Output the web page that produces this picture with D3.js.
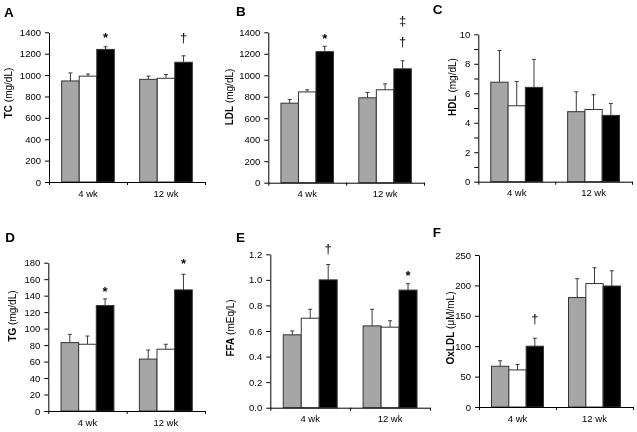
<!DOCTYPE html>
<html><head><meta charset="utf-8">
<script src="https://cdn.jsdelivr.net/npm/d3@7"></script>
<style>
body{margin:0;background:#fff}
svg{display:block;will-change:transform}
text{font-family:"Liberation Sans",Arial,Helvetica,sans-serif;fill:#000}
</style></head>
<body><svg id="chart" width="637" height="432"></svg>
<script>
// ---------- DATA ----------
const categories = ["4 wk", "12 wk"];
const seriesNames = ["control", "low", "high"];
const seriesFill = ["#a6a6a6", "#ffffff", "#000000"];

// means [category][series], errors are SEM (upper bars only)
const tcMeans = [[945, 990, 1240], [960, 970, 1120]];
const tcErrs  = [[75, 20, 25], [30, 35, 60]];
const ldlMeans = [[740, 845, 1220], [790, 865, 1060]];
const ldlErrs  = [[35, 20, 50], [50, 55, 75]];
const hdlMeans = [[6.75, 5.15, 6.4], [4.75, 4.9, 4.5]];
const hdlErrs  = [[2.15, 1.65, 1.9], [1.35, 1.0, 0.8]];
const tgMeans = [[83, 81, 128], [63, 75, 147]];
const tgErrs  = [[10, 10, 8], [11, 6, 19]];
const ffaMeans = [[0.57, 0.70, 1.00], [0.64, 0.63, 0.92]];
const ffaErrs  = [[0.03, 0.07, 0.12], [0.13, 0.05, 0.05]];
const oxMeans = [[67, 61, 100], [180, 203, 199]];
const oxErrs  = [[9, 9, 13], [31, 26, 25]];

const tcTicks = [0, 200, 400, 600, 800, 1000, 1200, 1400];
const ldlTicks = [0, 200, 400, 600, 800, 1000, 1200, 1400];
const hdlTicks = [0, 2, 4, 6, 8, 10];
const hdlMinorTicks = [1, 3, 5, 7, 9];
const tgTicks = [0, 20, 40, 60, 80, 100, 120, 140, 160, 180];
const ffaTicks = [0, 0.2, 0.4, 0.6, 0.8, 1.0, 1.2];
const oxTicks = [0, 50, 100, 150, 200, 250];

// significance marks: category index, series index, symbol, level (data units of baseline)
const tcMarks = [{c: 0, s: 2, sym: "*", at: 1305}, {c: 1, s: 2, sym: "†", at: 1310}];
const ldlMarks = [{c: 0, s: 2, sym: "*", at: 1300}, {c: 1, s: 2, sym: "‡", at: 1468}, {c: 1, s: 2, sym: "†", at: 1268}];
const hdlMarks = [];
const tgMarks = [{c: 0, s: 2, sym: "*", at: 140}, {c: 1, s: 2, sym: "*", at: 173}];
const ffaMarks = [{c: 0, s: 2, sym: "†", at: 1.214}, {c: 1, s: 2, sym: "*", at: 1.0}];
const oxMarks = [{c: 0, s: 2, sym: "†", at: 138}];

// ---------- LAYOUT ----------
const panels = [
  {letter: "A", lx: 4, ly: 17, bold: "TC", rest: " (mg/dL)", tx: 11.5, ty: 93,
   x0: 49, x1: 205, yt: 32.3, yb: 182, max: 1400, ticks: tcTicks, minor: [], fmt: d3.format("d"),
   means: tcMeans, errs: tcErrs, marks: tcMarks},
  {letter: "B", lx: 236, ly: 16, bold: "LDL", rest: " (mg/dL)", tx: 232.5, ty: 97,
   x0: 268.3, x1: 424, yt: 32.3, yb: 182.7, max: 1400, ticks: ldlTicks, minor: [], fmt: d3.format("d"),
   means: ldlMeans, errs: ldlErrs, marks: ldlMarks},
  {letter: "C", lx: 432.7, ly: 14, bold: "HDL", rest: " (mg/dL)", tx: 456, ty: 87,
   x0: 478.3, x1: 632, yt: 34.3, yb: 181.7, max: 10, ticks: hdlTicks, minor: hdlMinorTicks, fmt: d3.format("d"),
   means: hdlMeans, errs: hdlErrs, marks: hdlMarks},
  {letter: "D", lx: 5.3, ly: 241.7, bold: "TG", rest: " (mg/dL)", tx: 16, ty: 316,
   x0: 48.3, x1: 205, yt: 262.7, yb: 411, max: 180, ticks: tgTicks, minor: [], fmt: d3.format("d"),
   means: tgMeans, errs: tgErrs, marks: tgMarks},
  {letter: "E", lx: 236, ly: 242, bold: "FFA", rest: " (mEq/L)", tx: 234, ty: 328,
   x0: 270.3, x1: 430, yt: 254.3, yb: 407.7, max: 1.2, ticks: ffaTicks, minor: [], fmt: d3.format(".1f"),
   means: ffaMeans, errs: ffaErrs, marks: ffaMarks},
  {letter: "F", lx: 432.7, ly: 236.7, bold: "OxLDL", rest: " (μM/mL)", tx: 454, ty: 328,
   x0: 479, x1: 633, yt: 255, yb: 407, max: 250, ticks: oxTicks, minor: [], fmt: d3.format("d"),
   means: oxMeans, errs: oxErrs, marks: oxMarks}
];

const svg = d3.select("#chart");

function drawPanel(p) {
  const g = svg.append("g");
  const x = d3.scaleBand().domain(categories).range([p.x0, p.x1]).paddingInner(0.325).paddingOuter(0.1625);
  const xs = d3.scaleBand().domain(seriesNames).range([0, x.bandwidth()]);
  const y = d3.scaleLinear().domain([0, p.max]).range([p.yb, p.yt]);

  const rows = [];
  p.means.forEach((row, ci) => row.forEach((v, si) => rows.push({ci, si, v, e: p.errs[ci][si]})));

  // error bars (upper only)
  const eb = g.append("g").attr("stroke", "#3a3a3a").attr("stroke-width", 1).attr("fill", "none");
  rows.forEach(d => {
    const cx = x(categories[d.ci]) + xs(seriesNames[d.si]) + xs.bandwidth() / 2;
    eb.append("line").attr("x1", cx).attr("x2", cx).attr("y1", y(d.v)).attr("y2", y(d.v + d.e));
    eb.append("line").attr("x1", cx - 2).attr("x2", cx + 2).attr("y1", y(d.v + d.e)).attr("y2", y(d.v + d.e));
  });

  // bars
  g.append("g").selectAll("rect").data(rows).join("rect")
    .attr("x", d => x(categories[d.ci]) + xs(seriesNames[d.si]))
    .attr("width", xs.bandwidth())
    .attr("y", d => y(d.v))
    .attr("height", d => y(0) - y(d.v))
    .attr("fill", d => seriesFill[d.si])
    .attr("stroke", "#333")
    .attr("stroke-width", 1);

  // y axis
  const ya = g.append("g").attr("transform", `translate(${p.x0},0)`)
    .call(d3.axisLeft(y).tickValues(p.ticks).tickFormat(p.fmt).tickSize(4).tickSizeOuter(0).tickPadding(4));
  if (p.minor.length) {
    g.append("g").attr("transform", `translate(${p.x0},0)`)
      .call(d3.axisLeft(y).tickValues(p.minor).tickFormat("").tickSize(4).tickSizeOuter(0))
      .select(".domain").remove();
  }
  ya.selectAll("text").attr("font-size", "9.5px").attr("font-family", null).attr("fill", "#111");
  ya.selectAll("line,path").attr("stroke", "#000");

  // x axis: line with ticks at category boundaries
  const xb = d3.scaleLinear().domain([0, categories.length]).range([p.x0, p.x1]);
  const xa = g.append("g").attr("transform", `translate(0,${p.yb})`)
    .call(d3.axisBottom(xb).tickValues(d3.range(categories.length + 1)).tickFormat("").tickSize(3).tickSizeOuter(0));
  xa.selectAll("line,path").attr("stroke", "#000");

  // category labels
  g.append("g").selectAll("text").data(categories).join("text")
    .attr("x", d => x(d) + x.bandwidth() / 2)
    .attr("y", p.yb + 14.5)
    .attr("text-anchor", "middle")
    .attr("font-size", "9.5px")
    .attr("fill", "#111")
    .text(d => d);

  // significance marks
  g.append("g").selectAll("text").data(p.marks).join("text")
    .attr("x", d => x(categories[d.c]) + xs(seriesNames[d.s]) + xs.bandwidth() / 2)
    .attr("y", d => y(d.at))
    .attr("text-anchor", "middle")
    .attr("font-size", "13px")
    .attr("font-weight", d => d.sym === "*" ? "bold" : "normal")
    .text(d => d.sym);

  // y title
  const t = g.append("text")
    .attr("transform", `translate(${p.tx},${p.ty}) rotate(-90)`)
    .attr("text-anchor", "middle")
    .attr("font-size", "10px");
  t.append("tspan").attr("font-weight", "bold").text(p.bold);
  t.append("tspan").text(p.rest);

  // panel letter
  g.append("text").attr("x", p.lx).attr("y", p.ly)
    .attr("font-size", "13.5px").attr("font-weight", "bold").text(p.letter);
}

panels.forEach(drawPanel);
</script>
</body></html>
